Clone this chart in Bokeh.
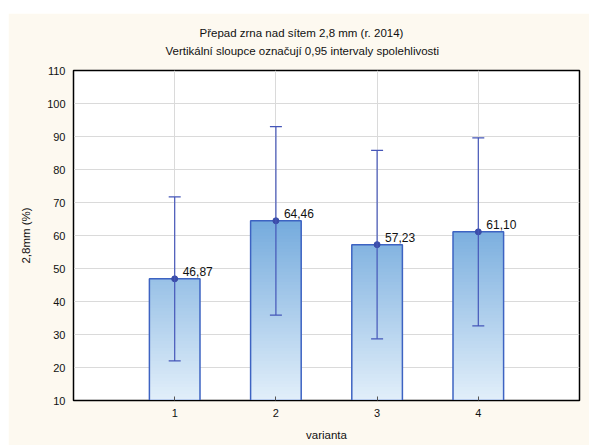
from bokeh.plotting import figure
from bokeh.models import Range1d, FixedTicker, ColumnDataSource, Whisker, TeeHead, Title
from bokeh.core.properties import value
from bokeh.embed import file_html
from bokeh.resources import INLINE

# ---- data ----
variants = [1, 2, 3, 4]
means = [46.87, 64.46, 57.23, 61.10]
upper = [71.7, 93.0, 85.8, 89.6]
lower = [22.0, 35.9, 28.7, 32.6]
y_ticks = [10, 20, 30, 40, 50, 60, 70, 80, 90, 100, 110]
title1 = "Přepad zrna nad sítem 2,8 mm (r. 2014)"
title2 = "Vertikální sloupce označují 0,95 intervaly spolehlivosti"
x_label = "varianta"
y_label = "2,8mm (%)"

FONT = "Liberation Sans"
Y0 = 10

p = figure(width=581, height=432, output_backend="svg", toolbar_location=None,
           x_range=Range1d(0, 5), y_range=Range1d(10, 110),
           min_border_left=65, min_border_right=10, min_border_top=57, min_border_bottom=45)
p.margin = (13, 0, 0, 8)
p.border_fill_color = "#FDF9F0"
p.background_fill_color = "white"
p.outline_line_color = "black"
p.outline_line_width = 1.5

# titles (last added is outermost)
t2 = Title(text=title2, align="left", text_font=FONT, text_font_size="11.5px",
           text_font_style="normal", text_color="#111111", offset=92, standoff=28)
t1 = Title(text=title1, align="left", text_font=FONT, text_font_size="11.5px",
           text_font_style="normal", text_color="#111111", offset=126, standoff=-20)
p.add_layout(t2, "above")
p.add_layout(t1, "above")

# grid
p.xgrid.ticker = FixedTicker(ticks=variants)
p.ygrid.ticker = FixedTicker(ticks=y_ticks)
p.xgrid.grid_line_color = "#DADADA"
p.ygrid.grid_line_color = "#DADADA"

# axes
p.xaxis.ticker = FixedTicker(ticks=variants)
p.yaxis.ticker = FixedTicker(ticks=y_ticks)
for ax in (p.xaxis[0], p.yaxis[0]):
    ax.axis_line_color = "black"
    ax.major_label_text_font = FONT
    ax.major_label_text_font_size = "11px"
    ax.major_label_text_color = "#111111"
    ax.axis_label_text_font = FONT
    ax.axis_label_text_font_size = "11.5px"
    ax.axis_label_text_font_style = "normal"
    ax.axis_label_text_color = "#111111"
    ax.minor_tick_line_color = None
p.xaxis.axis_label = x_label
p.yaxis.axis_label = y_label
p.yaxis.major_tick_out = 0
p.yaxis.major_tick_in = 0
p.yaxis.major_label_standoff = 8
p.yaxis.axis_label_standoff = 12
p.xaxis.major_tick_out = 0
p.xaxis.major_tick_in = 4
p.xaxis.major_tick_line_color = "#555555"
p.xaxis.major_label_standoff = 8
p.xaxis.axis_label_standoff = 9

# gradient bars (colour depends on height)
c_lo = (226, 239, 250)
c_hi = (106, 164, 218)
def grad(yv):
    f = max(0.0, min(1.0, (yv - Y0) / 60.0))
    return "#%02x%02x%02x" % tuple(int(round(a + f * (b - a))) for a, b in zip(c_lo, c_hi))

L, R, B, T, C = [], [], [], [], []
for x, m in zip(variants, means):
    yb = Y0
    while yb < m:
        yt = min(m, yb + 1.0)
        L.append(x - 0.25); R.append(x + 0.25); B.append(yb)
        T.append(min(m, yt + 0.5))
        C.append(grad((yb + yt) / 2))
        yb = yt
p.quad(left=L, right=R, bottom=B, top=T, fill_color=C, line_color=None)

src = ColumnDataSource(dict(x=variants, m=means, lo=lower, up=upper,
                            lab=[f"{v:.2f}".replace(".", ",") for v in means],
                            l=[v - 0.25 for v in variants], r=[v + 0.25 for v in variants],
                            b=[Y0] * len(variants)))
p.quad(left="l", right="r", bottom="b", top="m", source=src, fill_color=None,
       line_color="#3D63C2", line_width=1.5)

# error bars
wc = "#4556B8"
p.add_layout(Whisker(base="x", upper="up", lower="lo", source=src, line_color=wc, line_width=1.2,
                     level="annotation",
                     upper_head=TeeHead(size=12, line_color=wc, line_width=1.2),
                     lower_head=TeeHead(size=12, line_color=wc, line_width=1.2)))
p.scatter(x="x", y="m", source=src, size=6, fill_color="#3A4CA8", line_color="#3A4CA8",
          level="annotation")

p.text(x="x", y="m", text="lab", source=src, x_offset=8, y_offset=-3,
       text_baseline="bottom", text_align="left", text_font=value(FONT),
       text_font_size="12px", text_color="#111111", level="annotation")

open("out.html", "w").write(file_html(p, INLINE))
